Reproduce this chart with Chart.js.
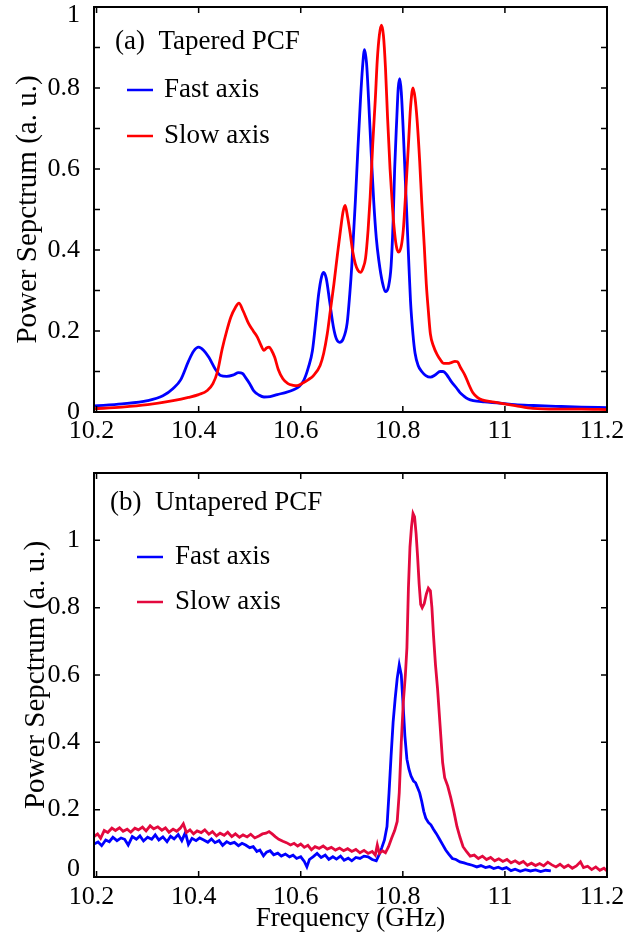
<!DOCTYPE html>
<html>
<head>
<meta charset="utf-8">
<script src="https://cdn.jsdelivr.net/npm/chart.js@4.4.1/dist/chart.umd.min.js"></script>
<style>
html, body { margin: 0; padding: 0; background: #fff; }
#wrapA { position: absolute; left: 0; top: 0; width: 630px; height: 450px; }
#wrapB { position: absolute; left: 0; top: 450px; width: 630px; height: 491px; }
</style>
</head>
<body>
<div id="wrapA"><canvas id="chartA"></canvas></div>
<div id="wrapB"><canvas id="chartB"></canvas></div>
<script>
// ---- axis ticks ----
var freqTicks = [10.2, 10.4, 10.6, 10.8, 11, 11.2];
var powerTicksA = [0, 0.2, 0.4, 0.6, 0.8, 1];
var powerMinorA = [0.1, 0.3, 0.5, 0.7, 0.9];
var powerTicksB = [0, 0.2, 0.4, 0.6, 0.8, 1];

// ---- (a) tapered PCF, fast axis ----
var fastA_freq = [10.195, 10.25, 10.3, 10.33, 10.35, 10.365, 10.38, 10.39, 10.4, 10.41, 10.42, 10.433, 10.443, 10.455, 10.469, 10.478, 10.486, 10.492, 10.5, 10.508, 10.518, 10.528, 10.54, 10.554, 10.57, 10.586, 10.597, 10.606, 10.615, 10.623, 10.63, 10.635, 10.641, 10.645, 10.65, 10.657, 10.664, 10.67, 10.676, 10.683, 10.691, 10.696, 10.7, 10.707, 10.712, 10.717, 10.721, 10.725, 10.729, 10.733, 10.738, 10.743, 10.748, 10.753, 10.76, 10.766, 10.772, 10.777, 10.781, 10.784, 10.788, 10.791, 10.794, 10.797, 10.801, 10.805, 10.808, 10.812, 10.815, 10.82, 10.824, 10.83, 10.837, 10.845, 10.854, 10.864, 10.873, 10.879, 10.886, 10.895, 10.906, 10.912, 10.919, 10.928, 10.938, 10.96, 10.99, 11.02, 11.056, 11.1, 11.15, 11.2];
var fastA_power = [0.015, 0.02, 0.028, 0.04, 0.058, 0.08, 0.125, 0.15, 0.16, 0.152, 0.135, 0.105, 0.09, 0.088, 0.092, 0.097, 0.095, 0.085, 0.07, 0.052, 0.042, 0.037, 0.038, 0.043, 0.048, 0.055, 0.063, 0.078, 0.11, 0.152, 0.23, 0.29, 0.335, 0.345, 0.33, 0.27, 0.21, 0.18, 0.172, 0.18, 0.22, 0.29, 0.36, 0.52, 0.65, 0.77, 0.85, 0.895, 0.86, 0.77, 0.64, 0.52, 0.43, 0.374, 0.32, 0.297, 0.31, 0.36, 0.47, 0.6, 0.72, 0.8, 0.823, 0.79, 0.69, 0.57, 0.48, 0.36, 0.275, 0.19, 0.145, 0.115, 0.1, 0.09, 0.086, 0.092, 0.1, 0.1, 0.092, 0.075, 0.058, 0.048, 0.04, 0.032, 0.028, 0.025, 0.022, 0.018, 0.016, 0.014, 0.012, 0.011];

// ---- (a) tapered PCF, slow axis ----
var slowA_freq = [10.195, 10.25, 10.3, 10.35, 10.38, 10.4, 10.417, 10.428, 10.437, 10.446, 10.455, 10.463, 10.472, 10.479, 10.487, 10.498, 10.507, 10.515, 10.522, 10.528, 10.533, 10.538, 10.543, 10.549, 10.556, 10.565, 10.575, 10.585, 10.593, 10.605, 10.615, 10.625, 10.638, 10.645, 10.652, 10.658, 10.665, 10.672, 10.678, 10.683, 10.687, 10.692, 10.697, 10.702, 10.707, 10.712, 10.717, 10.722, 10.727, 10.732, 10.736, 10.741, 10.746, 10.75, 10.754, 10.758, 10.762, 10.766, 10.77, 10.775, 10.78, 10.785, 10.789, 10.792, 10.797, 10.801, 10.806, 10.811, 10.815, 10.82, 10.824, 10.828, 10.833, 10.837, 10.842, 10.846, 10.85, 10.854, 10.86, 10.867, 10.874, 10.88, 10.888, 10.895, 10.902, 10.907, 10.913, 10.922, 10.93, 10.937, 10.946, 10.955, 10.975, 10.99, 11.02, 11.055, 11.1, 11.15, 11.2];
var slowA_power = [0.008, 0.012, 0.018, 0.028, 0.036, 0.043, 0.053, 0.07, 0.1, 0.155, 0.2, 0.234, 0.258, 0.269, 0.25, 0.218, 0.2, 0.185, 0.165, 0.152, 0.158, 0.16, 0.152, 0.135, 0.105, 0.082, 0.07, 0.066, 0.065, 0.072, 0.08, 0.09, 0.115, 0.145, 0.193, 0.25, 0.316, 0.39, 0.45, 0.495, 0.51, 0.48, 0.44, 0.395, 0.366, 0.35, 0.345, 0.355, 0.38, 0.45, 0.53, 0.66, 0.77, 0.87, 0.93, 0.955, 0.93, 0.85, 0.73, 0.6, 0.5, 0.43, 0.4, 0.395, 0.41, 0.45, 0.55, 0.66, 0.75, 0.8, 0.775, 0.72, 0.62, 0.52, 0.41, 0.316, 0.25, 0.193, 0.163, 0.142, 0.128, 0.12, 0.12, 0.122, 0.125, 0.124, 0.11, 0.09, 0.066, 0.048, 0.036, 0.03, 0.025, 0.022, 0.016, 0.009, 0.007, 0.007, 0.006];

// ---- (b) untapered PCF, fast axis ----
var fastB_freq = [10.195, 10.203, 10.21, 10.218, 10.225, 10.232, 10.24, 10.248, 10.255, 10.262, 10.27, 10.278, 10.285, 10.292, 10.3, 10.308, 10.315, 10.322, 10.33, 10.338, 10.345, 10.352, 10.36, 10.367, 10.374, 10.38, 10.387, 10.395, 10.402, 10.41, 10.418, 10.425, 10.432, 10.44, 10.447, 10.455, 10.462, 10.47, 10.478, 10.485, 10.492, 10.5, 10.507, 10.514, 10.52, 10.527, 10.533, 10.54, 10.547, 10.555, 10.562, 10.57, 10.578, 10.585, 10.592, 10.6, 10.607, 10.612, 10.617, 10.624, 10.632, 10.64, 10.648, 10.655, 10.663, 10.67, 10.678, 10.685, 10.693, 10.7, 10.708, 10.716, 10.724, 10.732, 10.74, 10.748, 10.754, 10.759, 10.764, 10.769, 10.773, 10.777, 10.781, 10.785, 10.789, 10.793, 10.797, 10.801, 10.804, 10.808, 10.812, 10.816, 10.821, 10.825, 10.829, 10.833, 10.837, 10.841, 10.845, 10.85, 10.855, 10.86, 10.866, 10.872, 10.878, 10.884, 10.89, 10.897, 10.904, 10.912, 10.92, 10.928, 10.936, 10.945, 10.953, 10.962, 10.97, 10.978, 10.987, 10.995, 11.003, 11.012, 11.02, 11.03, 11.04, 11.05, 11.06, 11.07, 11.08, 11.09];
var fastB_power = [0.098, 0.104, 0.093, 0.11, 0.105, 0.118, 0.108, 0.116, 0.112, 0.095, 0.12, 0.112, 0.122, 0.107, 0.118, 0.112, 0.125, 0.11, 0.119, 0.105, 0.121, 0.113, 0.126, 0.108, 0.132, 0.097, 0.115, 0.108, 0.116, 0.11, 0.103, 0.113, 0.102, 0.108, 0.094, 0.105, 0.099, 0.103, 0.093, 0.1, 0.095, 0.087, 0.09, 0.076, 0.08, 0.063, 0.074, 0.078, 0.066, 0.071, 0.062, 0.068, 0.06, 0.065, 0.055, 0.06, 0.046, 0.03, 0.052, 0.06, 0.07, 0.058, 0.065, 0.052, 0.06, 0.053, 0.062, 0.05, 0.056, 0.048, 0.058, 0.055, 0.062, 0.06, 0.052, 0.048, 0.068, 0.088, 0.11, 0.15, 0.25, 0.36, 0.46, 0.53, 0.59, 0.63, 0.6, 0.5, 0.42, 0.35, 0.32, 0.3, 0.285, 0.28, 0.265, 0.25, 0.225, 0.195, 0.175, 0.162, 0.155, 0.142, 0.128, 0.112, 0.096, 0.08, 0.068, 0.055, 0.052, 0.045, 0.042, 0.038, 0.035, 0.03, 0.034, 0.028, 0.031, 0.025, 0.029, 0.024, 0.028, 0.019, 0.023, 0.017, 0.022, 0.018, 0.021, 0.016, 0.02, 0.018];

// ---- (b) untapered PCF, slow axis ----
var slowB_freq = [10.195, 10.202, 10.208, 10.215, 10.222, 10.23, 10.237, 10.245, 10.252, 10.26, 10.267, 10.275, 10.282, 10.29, 10.297, 10.305, 10.312, 10.32, 10.328, 10.335, 10.342, 10.35, 10.357, 10.364, 10.37, 10.376, 10.383, 10.39, 10.397, 10.405, 10.412, 10.42, 10.427, 10.435, 10.442, 10.45, 10.457, 10.465, 10.472, 10.48, 10.487, 10.495, 10.502, 10.51, 10.518, 10.525, 10.532, 10.538, 10.544, 10.55, 10.557, 10.565, 10.572, 10.58, 10.587, 10.594, 10.6, 10.607, 10.614, 10.621, 10.628, 10.636, 10.644, 10.652, 10.66, 10.668, 10.676, 10.684, 10.692, 10.7, 10.708, 10.716, 10.724, 10.732, 10.74, 10.746, 10.75, 10.754, 10.76, 10.766, 10.772, 10.778, 10.784, 10.789, 10.793, 10.797, 10.801, 10.805, 10.808, 10.811, 10.814, 10.817, 10.82, 10.823, 10.826, 10.829, 10.832, 10.835, 10.838, 10.842, 10.846, 10.85, 10.854, 10.857, 10.86, 10.864, 10.868, 10.873, 10.878, 10.882, 10.888, 10.894, 10.9, 10.906, 10.912, 10.918, 10.925, 10.932, 10.94, 10.948, 10.956, 10.964, 10.972, 10.98, 10.988, 10.996, 11.004, 11.012, 11.02, 11.028, 11.036, 11.044, 11.052, 11.06, 11.068, 11.076, 11.084, 11.092, 11.1, 11.108, 11.116, 11.124, 11.132, 11.14, 11.148, 11.154, 11.162, 11.17, 11.178, 11.186, 11.194, 11.2];
var slowB_power = [0.12, 0.128, 0.115, 0.138, 0.132, 0.145, 0.138, 0.146, 0.136, 0.142, 0.133, 0.145, 0.14, 0.148, 0.137, 0.152, 0.143, 0.149, 0.139, 0.146, 0.133, 0.142, 0.136, 0.145, 0.158, 0.132, 0.14, 0.128, 0.137, 0.132, 0.14, 0.127, 0.135, 0.122, 0.13, 0.124, 0.133, 0.12, 0.128, 0.118, 0.125, 0.119, 0.127, 0.116, 0.122, 0.128, 0.13, 0.135, 0.128, 0.12, 0.112, 0.106, 0.102, 0.095, 0.1, 0.092, 0.098, 0.088, 0.094, 0.081, 0.09, 0.085, 0.092, 0.083, 0.088, 0.08, 0.086, 0.078, 0.084, 0.076, 0.082, 0.072, 0.079, 0.07, 0.076, 0.065, 0.095, 0.07, 0.078, 0.072, 0.09, 0.115, 0.138, 0.165, 0.25, 0.4, 0.52, 0.6, 0.68, 0.86, 0.98, 1.04, 1.08, 1.07, 1.02, 0.95, 0.87, 0.81, 0.8, 0.812, 0.84, 0.858, 0.85, 0.8, 0.72, 0.63, 0.56, 0.45, 0.34, 0.295, 0.27, 0.235, 0.195, 0.15, 0.118, 0.09, 0.075, 0.062, 0.065, 0.055, 0.062, 0.052, 0.058, 0.048, 0.054, 0.046, 0.052, 0.042, 0.048, 0.04, 0.046, 0.035, 0.041, 0.034, 0.04, 0.033, 0.044, 0.036, 0.03, 0.038, 0.028, 0.035, 0.026, 0.033, 0.045, 0.028, 0.032, 0.022, 0.03, 0.02, 0.026, 0.018];

var SERIF = "'Liberation Serif', 'Times New Roman', serif";

function pts(fs, vs) {
  return fs.map(function (f, i) { return { x: f, y: vs[i] }; });
}
function fmt(v) {
  return String(Math.round(v * 10) / 10);
}

// frame, inward ticks, panel label and hand-placed legend
var framePlugin = {
  id: 'frame',
  afterDraw: function (chart, args, opts) {
    var ctx = chart.ctx, a = chart.chartArea;
    var x = chart.scales.x, y = chart.scales.y;
    ctx.save();
    ctx.strokeStyle = '#000';
    ctx.lineWidth = 1.5;
    ctx.beginPath();
    freqTicks.forEach(function (v) {
      var px = x.getPixelForValue(v);
      ctx.moveTo(px, a.bottom); ctx.lineTo(px, a.bottom - 6);
      ctx.moveTo(px, a.top); ctx.lineTo(px, a.top + 6);
    });
    opts.yTicks.concat(opts.yMinor).forEach(function (v) {
      var py = y.getPixelForValue(v);
      ctx.moveTo(a.left, py); ctx.lineTo(a.left + 6, py);
      ctx.moveTo(a.right, py); ctx.lineTo(a.right - 6, py);
    });
    ctx.stroke();
    ctx.lineWidth = 2;
    ctx.strokeRect(a.left, a.top, a.right - a.left, a.bottom - a.top);

    ctx.fillStyle = '#000';
    ctx.font = '27px ' + SERIF;
    ctx.textBaseline = 'middle';
    ctx.textAlign = 'left';
    ctx.fillText(opts.label, a.left + opts.labelX, a.top + opts.labelY);
    opts.legend.forEach(function (item) {
      ctx.strokeStyle = item.color;
      ctx.lineWidth = 2.5;
      ctx.beginPath();
      ctx.moveTo(a.left + opts.lineX0, a.top + item.y);
      ctx.lineTo(a.left + opts.lineX1, a.top + item.y);
      ctx.stroke();
      ctx.fillText(item.text, a.left + opts.textX, a.top + item.y);
    });
    ctx.restore();
  }
};

function makeOptions(cfg) {
  return {
    animation: false,
    responsive: true,
    maintainAspectRatio: false,
    devicePixelRatio: 1,
    layout: { padding: cfg.pad },
    elements: { point: { radius: 0 } },
    plugins: {
      legend: { display: false },
      tooltip: { enabled: false },
      frame: cfg.frame
    },
    scales: {
      x: {
        type: 'linear',
        min: 10.195,
        max: 11.2,
        grid: { display: false },
        border: { display: false },
        ticks: {
          color: '#000',
          font: { family: SERIF, size: 26 },
          padding: cfg.xPad,
          maxRotation: 0,
          autoSkip: false,
          labelOffset: -5,
          callback: function (v) { return fmt(v); }
        },
        afterBuildTicks: function (s) { s.ticks = freqTicks.map(function (v) { return { value: v }; }); },
        afterFit: function (s) { s.height = cfg.xHeight; s.paddingLeft = 0; s.paddingRight = 0; },
        title: cfg.xTitle
      },
      y: {
        type: 'linear',
        min: 0,
        max: cfg.yMax,
        grid: { display: false },
        border: { display: false },
        ticks: {
          color: '#000',
          font: { family: SERIF, size: 26, lineHeight: 0.6 },
          padding: 6,
          autoSkip: false,
          callback: cfg.yLabel
        },
        afterBuildTicks: function (s) { s.ticks = cfg.yTicks.map(function (v) { return { value: v }; }); },
        afterFit: function (s) { s.width = 94; s.paddingTop = 0; s.paddingBottom = 0; },
        title: {
          display: true,
          text: 'Power Sepctrum (a. u.)',
          color: '#000',
          font: { family: SERIF, size: 29 },
          padding: { top: cfg.yTitlePad, bottom: 0 }
        }
      }
    }
  };
}

var chartA = new Chart(document.getElementById('chartA'), {
  type: 'line',
  data: {
    datasets: [
      { label: 'Slow axis', data: pts(slowA_freq, slowA_power), borderColor: '#ff0000', borderWidth: 2.8, cubicInterpolationMode: 'monotone', order: 0 },
      { label: 'Fast axis', data: pts(fastA_freq, fastA_power), borderColor: '#0000ff', borderWidth: 2.8, cubicInterpolationMode: 'monotone', order: 1 }
    ]
  },
  options: makeOptions({
    pad: { top: 7, right: 23, bottom: 0, left: 0 },
    xPad: -4,
    xHeight: 38,
    xTitle: { display: false },
    yMax: 1,
    yTicks: powerTicksA,
    // top label sits a little below its tick, as in the figure
    yLabel: function (v) { return v === 1 ? ['', '1'] : fmt(v); },
    yTitlePad: 11,
    frame: {
      yTicks: powerTicksA, yMinor: powerMinorA,
      label: '(a)  Tapered PCF', labelX: 21, labelY: 35,
      lineX0: 33, lineX1: 59, textX: 70,
      legend: [
        { text: 'Fast axis', color: '#0000ff', y: 83 },
        { text: 'Slow axis', color: '#ff0000', y: 129 }
      ]
    }
  }),
  plugins: [framePlugin]
});

var chartB = new Chart(document.getElementById('chartB'), {
  type: 'line',
  data: {
    datasets: [
      { label: 'Slow axis', data: pts(slowB_freq, slowB_power), borderColor: '#e3093e', borderWidth: 2.8, tension: 0, order: 0 },
      { label: 'Fast axis', data: pts(fastB_freq, fastB_power), borderColor: '#0000ff', borderWidth: 2.8, tension: 0, order: 1 }
    ]
  },
  options: makeOptions({
    pad: { top: 23, right: 23, bottom: 0, left: 0 },
    xPad: -3,
    xHeight: 64,
    xTitle: {
      display: true,
      text: 'Frequency (GHz)',
      color: '#000',
      font: { family: SERIF, size: 27 },
      padding: { top: 0, bottom: 6 }
    },
    yMax: 1.2,
    yTicks: powerTicksB,
    // bottom label sits a little above its tick, as in the figure
    yLabel: function (v) { return v === 0 ? ['0', ''] : fmt(v); },
    yTitlePad: 19,
    frame: {
      yTicks: powerTicksB, yMinor: [],
      label: '(b)  Untapered PCF', labelX: 16, labelY: 30,
      lineX0: 43, lineX1: 69, textX: 81,
      legend: [
        { text: 'Fast axis', color: '#0000ff', y: 84 },
        { text: 'Slow axis', color: '#e3093e', y: 129 }
      ]
    }
  }),
  plugins: [framePlugin]
});
</script>
</body>
</html>
